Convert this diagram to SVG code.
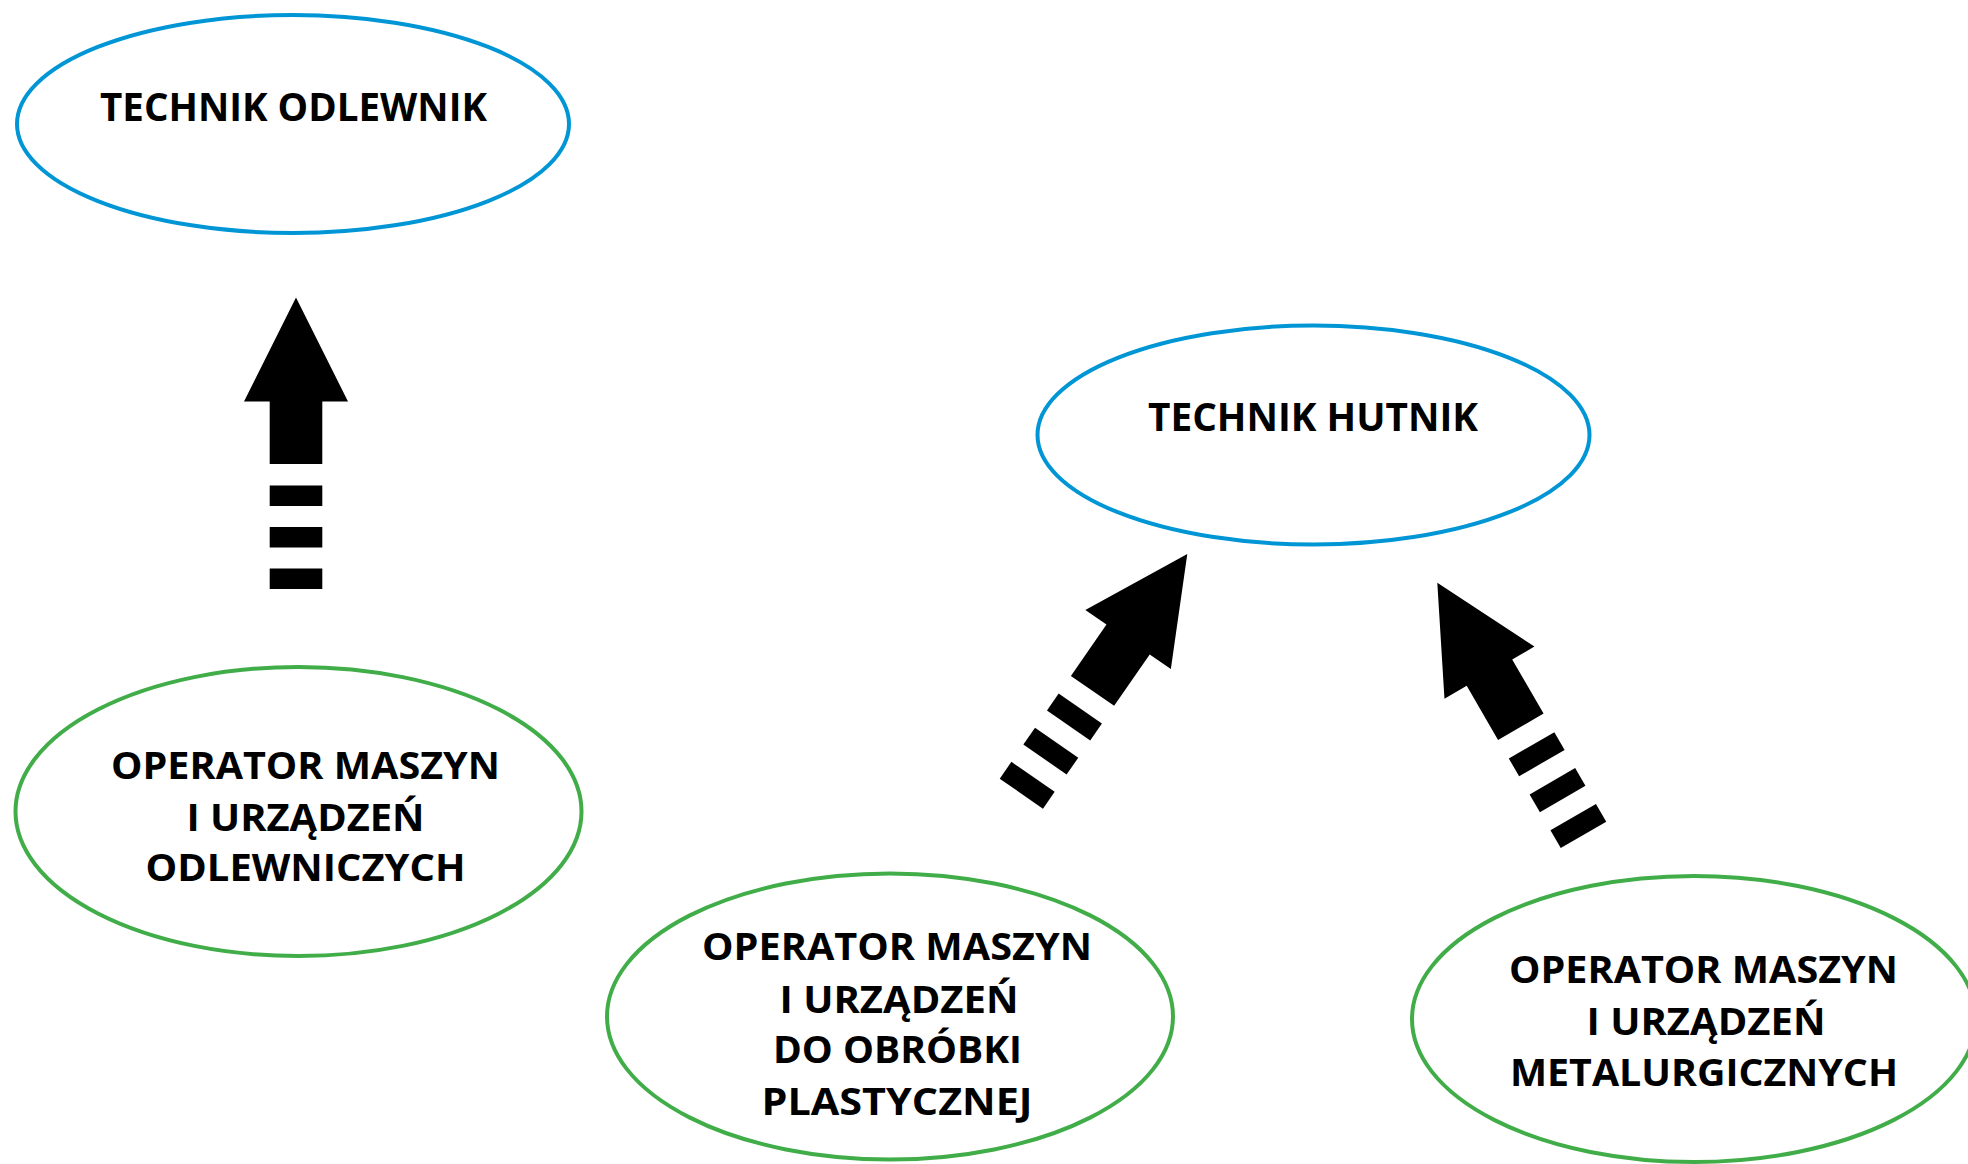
<svg xmlns="http://www.w3.org/2000/svg" xmlns:xlink="http://www.w3.org/1999/xlink" width="1968" height="1164" viewBox="0 0 1968 1164">
  <style>
    .bg { fill: #ffffff; }
    .blue { fill: #ffffff; stroke: #0096d6; stroke-width: 4; }
    .green { fill: #ffffff; stroke: #41ad49; stroke-width: 4; }
    .lbl { font-family: "Open Sans", "Liberation Sans", sans-serif; font-weight: 700; fill: #000000; text-anchor: middle; }
    .t1 { font-size: 40px; }
    .t2 { font-size: 38px; }
    .arrow { fill: #000000; }
  </style>
  <defs>
    <g id="dashArrow" class="arrow">
      <path d="M0,0 L52,104 L26.3,104 L26.3,166.5 L-26.3,166.5 L-26.3,104 L-52,104 Z"/>
      <rect x="-26.3" y="188" width="52.6" height="20.5"/>
      <rect x="-26.3" y="229.5" width="52.6" height="20.5"/>
      <rect x="-26.3" y="271" width="52.6" height="20.5"/>
    </g>
  </defs>
  <rect class="bg" x="0" y="0" width="1968" height="1164"/>

  <g id="connectors">
    <use xlink:href="#dashArrow" transform="translate(296,297.5)"/>
    <use xlink:href="#dashArrow" transform="translate(1187.3,554) rotate(34.7)"/>
    <use xlink:href="#dashArrow" transform="translate(1437.3,582.7) rotate(-30.1)"/>
  </g>

  <g id="technik-odlewnik">
    <ellipse class="blue" cx="293" cy="124" rx="276" ry="109"/>
    <text class="lbl t1" x="293.5" y="121" textLength="387" lengthAdjust="spacingAndGlyphs">TECHNIK ODLEWNIK</text>
  </g>

  <g id="technik-hutnik">
    <ellipse class="blue" cx="1313.5" cy="435" rx="276" ry="109.5"/>
    <text class="lbl t1" x="1313" y="431" textLength="330" lengthAdjust="spacingAndGlyphs">TECHNIK HUTNIK</text>
  </g>

  <g id="operator-odlewniczych">
    <ellipse class="green" cx="298.5" cy="811.5" rx="283" ry="144.5"/>
    <text class="lbl t2" x="305.5" y="779" textLength="389" lengthAdjust="spacingAndGlyphs">OPERATOR MASZYN</text>
    <text class="lbl t2" x="305.5" y="830.5" textLength="238" lengthAdjust="spacingAndGlyphs">I URZĄDZEŃ</text>
    <text class="lbl t2" x="305.5" y="881" textLength="320" lengthAdjust="spacingAndGlyphs">ODLEWNICZYCH</text>
  </g>

  <g id="operator-plastycznej">
    <ellipse class="green" cx="890" cy="1016.5" rx="283" ry="143"/>
    <text class="lbl t2" x="897" y="960" textLength="390" lengthAdjust="spacingAndGlyphs">OPERATOR MASZYN</text>
    <text class="lbl t2" x="899" y="1012.5" textLength="239" lengthAdjust="spacingAndGlyphs">I URZĄDZEŃ</text>
    <text class="lbl t2" x="897.5" y="1063" textLength="249" lengthAdjust="spacingAndGlyphs">DO OBRÓBKI</text>
    <text class="lbl t2" x="897" y="1115" textLength="271" lengthAdjust="spacingAndGlyphs">PLASTYCZNEJ</text>
  </g>

  <g id="operator-metalurgicznych">
    <ellipse class="green" cx="1694" cy="1019" rx="282" ry="143"/>
    <text class="lbl t2" x="1703.5" y="983" textLength="389" lengthAdjust="spacingAndGlyphs">OPERATOR MASZYN</text>
    <text class="lbl t2" x="1706" y="1034.5" textLength="239" lengthAdjust="spacingAndGlyphs">I URZĄDZEŃ</text>
    <text class="lbl t2" x="1704" y="1086" textLength="388" lengthAdjust="spacingAndGlyphs">METALURGICZNYCH</text>
  </g>
</svg>
